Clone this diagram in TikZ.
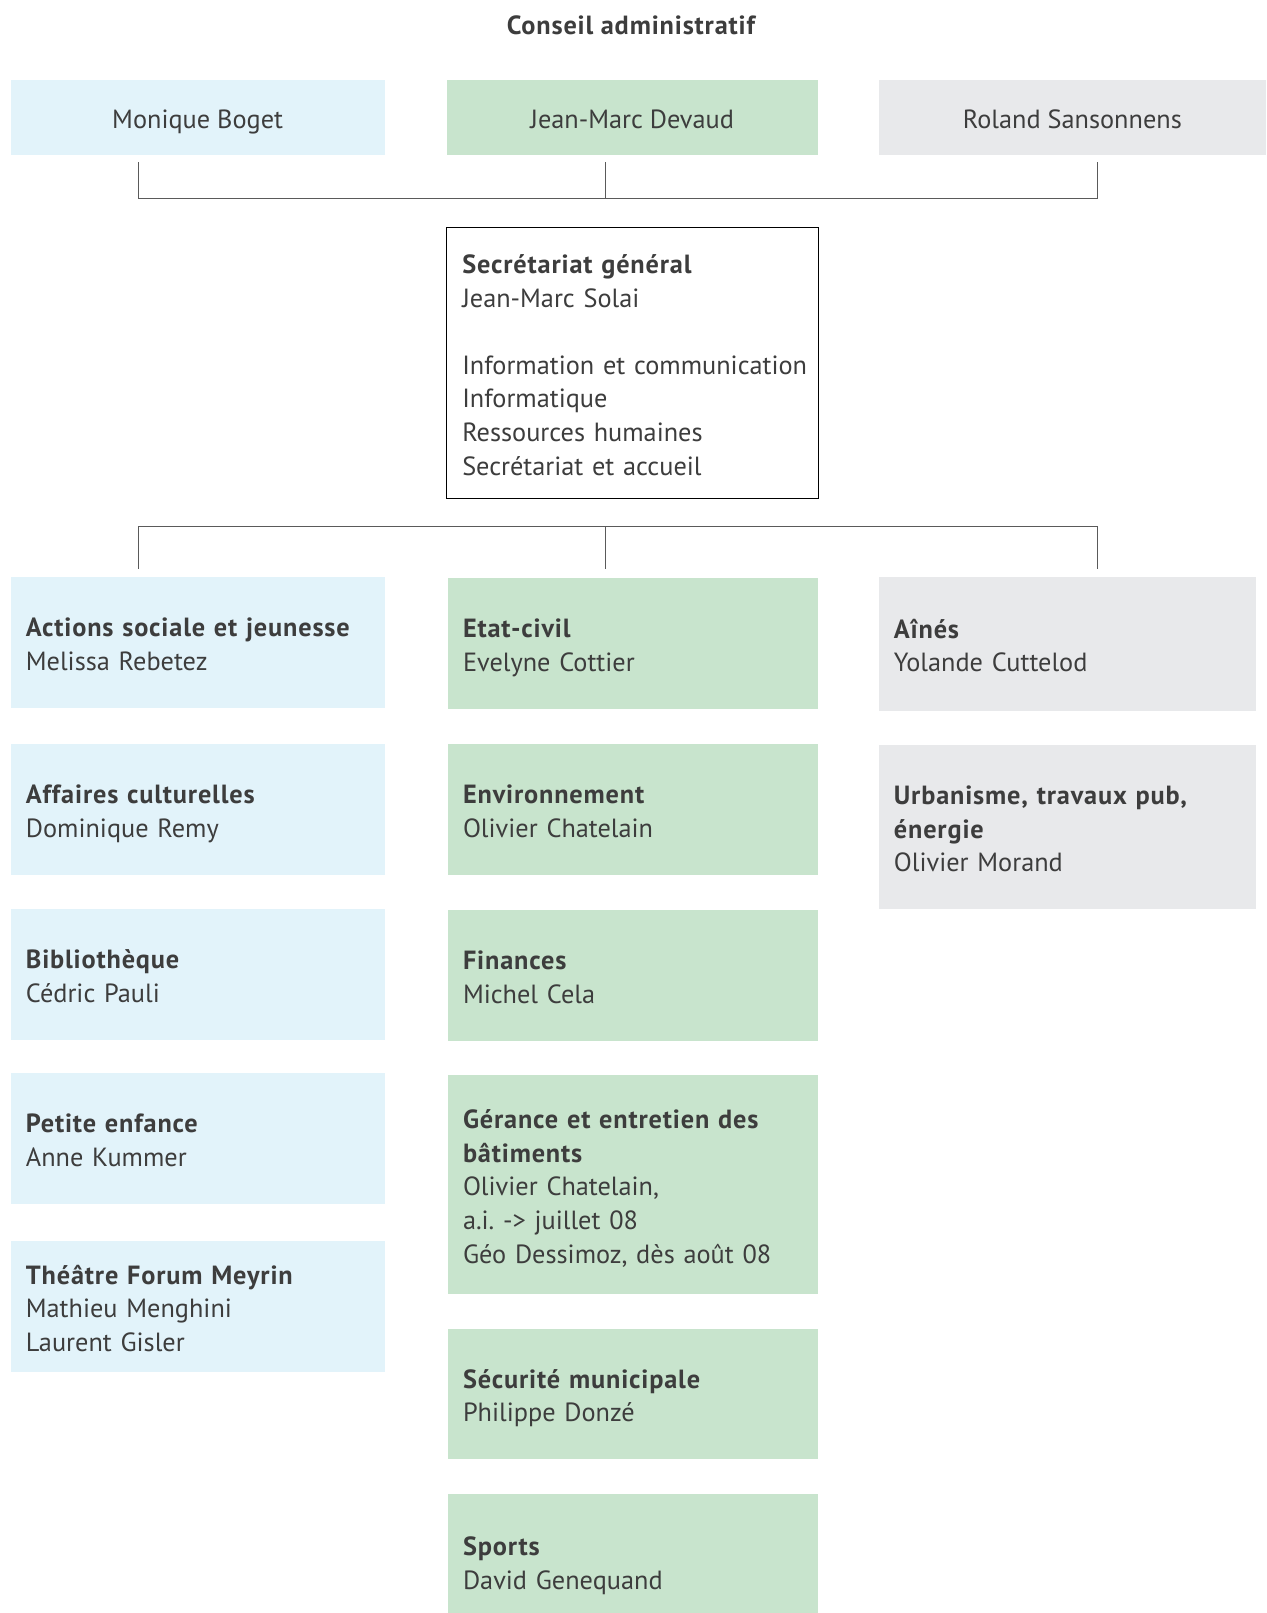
\documentclass[tikz,border=0pt]{standalone}
\usepackage{fontspec}
\setmainfont{PT Sans}[BoldFeatures={LetterSpace=3.2}]
\usetikzlibrary{positioning}
\definecolor{lblue}{HTML}{E2F3FA}
\definecolor{lgreen}{HTML}{C8E4CD}
\definecolor{lgray}{HTML}{E8E9EB}
\definecolor{txt}{HTML}{3D3D3D}
\definecolor{wire}{HTML}{5A5A5A}
\newcommand{\unitstrut}{\rule[-5.1pt]{0pt}{32.6pt}}
\tikzstyle{Unit} = [
rectangle,
inner xsep=15.4pt, inner ysep=0pt,
align=left,
text=txt,
execute at begin node=\unitstrut,
execute at end node=\unitstrut,
minimum height=130.6pt]
\tikzstyle{UnitBlue} = [Unit, fill=lblue, minimum width=374.3pt, text width=343.5pt]
\tikzstyle{UnitGreen} = [Unit, fill=lgreen, minimum width=370.2pt, text width=339.4pt]
\tikzstyle{UnitGray} = [Unit, fill=lgray, minimum width=377.4pt, text width=346.6pt]
\tikzstyle{Member} = [rectangle, inner sep=0pt, align=center, text=txt,
text height=28pt, text depth=6.4pt, minimum height=75.1pt]
\tikzstyle{Wire} = [line width=1.2pt, wire]

\begin{document}
\begin{tikzpicture}[x=1pt, y=-1pt, node distance=34pt,
    every node/.style={font=\fontsize{26.3}{33.6}\selectfont}]
    \clip (0,0) rectangle (1266,1613);

    \node [text=txt] (conseil) at (632,25.7) {\textbf{Conseil administratif}};
    \node [Member, fill=lblue, minimum width=374.3pt, anchor=north west] (boget) at (10.3,80.2) {Monique Boget};
    \node [Member, fill=lgreen, minimum width=371.3pt, anchor=north west] (devaud) at (446.3,80.2) {Jean-Marc Devaud};
    \node [Member, fill=lgray, minimum width=387.7pt, anchor=north west] (sansonnens) at (878.3,80.2) {Roland Sansonnens};

    \node [Unit, draw=black, line width=1.1pt, fill=white, minimum width=371.3pt, text width=340.5pt,
        minimum height=270.4pt, anchor=north west] (secretariat) at (446.3,227.3)
        {\textbf{Secrétariat général}\\Jean-Marc Solai\\[33.6pt]
         \mbox{Information et communication}\\Informatique\\Ressources humaines\\Secrétariat et accueil};

    % colonne gauche
    \node [UnitBlue, anchor=north west] (sociale) at (10.3,576.9) {\textbf{Actions sociale et jeunesse}\\Melissa Rebetez};
    \node [UnitBlue, below=36pt of sociale] (culture) {\textbf{Affaires culturelles}\\Dominique Remy};
    \node [UnitBlue, below=of culture] (biblio) {\textbf{Bibliothèque}\\Cédric Pauli};
    \node [UnitBlue, below=33pt of biblio] (enfance) {\textbf{Petite enfance}\\Anne Kummer};
    \node [UnitBlue, below=37pt of enfance] (theatre) {\textbf{Théâtre Forum Meyrin}\\Mathieu Menghini\\Laurent Gisler};

    % colonne milieu
    \node [UnitGreen, anchor=north west] (etatcivil) at (447.4,578) {\textbf{Etat-civil}\\Evelyne Cottier};
    \node [UnitGreen, below=35pt of etatcivil] (environ) {\textbf{Environnement}\\Olivier Chatelain};
    \node [UnitGreen, below=35pt of environ] (finances) {\textbf{Finances}\\Michel Cela};
    \node [UnitGreen, below=of finances, minimum height=219pt] (gerance)
        {\textbf{Gérance et entretien des}\\\textbf{bâtiments}\\Olivier Chatelain,\\a.i.\ -> juillet 08\\Géo Dessimoz, dès août 08};
    \node [UnitGreen, below=of gerance] (securite) {\textbf{Sécurité municipale}\\Philippe Donzé};
    \node [UnitGreen, below=of securite, minimum height=136pt] (sports) {\textbf{Sports}\\David Genequand};

    % colonne droite
    \node [UnitGray, anchor=north west, minimum height=133.7pt] (aines) at (878.3,576.9) {\textbf{Aînés}\\Yolande Cuttelod};
    \node [UnitGray, below=of aines, minimum height=163.5pt] (urbanisme) {\textbf{Urbanisme, travaux pub,}\\\textbf{énergie}\\Olivier Morand};

    % liaisons
    \coordinate (topL) at (138.8,162.5);
    \coordinate (topM) at (605.7,162.5);
    \coordinate (topR) at (1097.3,162.5);
    \coordinate (topBus) at (605.7,198.5);
    \coordinate (lowBus) at (605.7,526.5);
    \coordinate (lowL) at (138.8,568.7);
    \coordinate (lowM) at (605.7,568.7);
    \coordinate (lowR) at (1097.3,568.7);

    \draw[Wire] (topL) |- (topBus) -| (topR);
    \draw[Wire] (topM) -- (topBus);
    \draw[Wire] (lowL) |- (lowBus) -| (lowR);
    \draw[Wire] (lowBus) -- (lowM);
\end{tikzpicture}
\end{document}
